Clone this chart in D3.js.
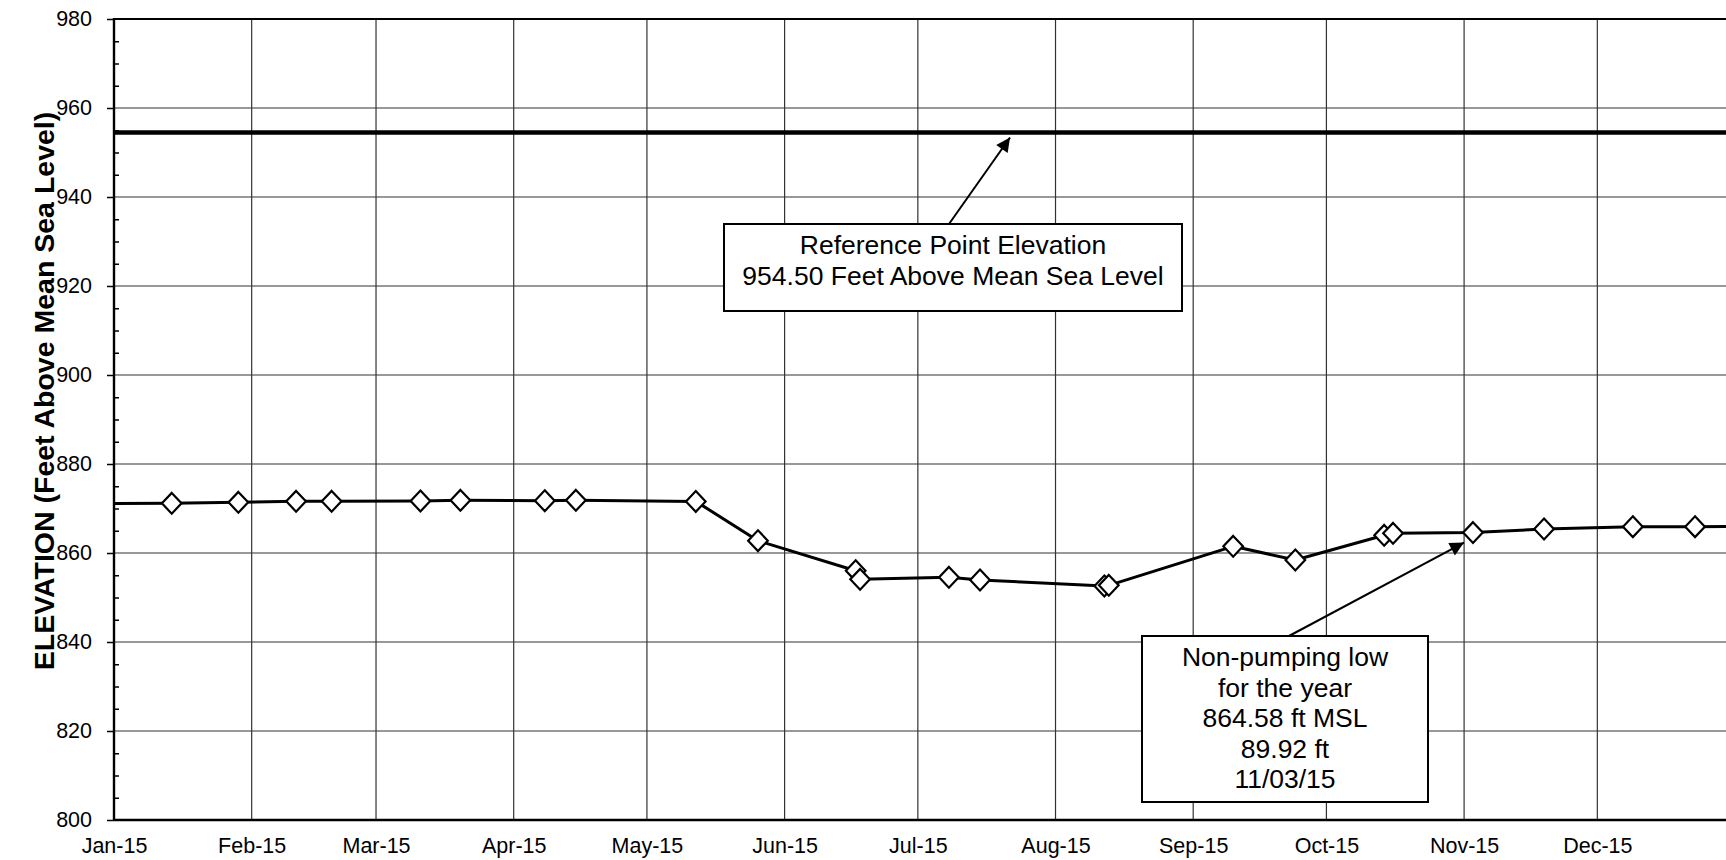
<!DOCTYPE html>
<html>
<head>
<meta charset="utf-8">
<script src="https://cdn.jsdelivr.net/npm/d3@7/dist/d3.min.js"></script>
<style>
  html, body { margin: 0; padding: 0; background: #fff; overflow: hidden; }
  svg { display: block; font-family: "Liberation Sans", Arial, sans-serif; }
</style>
</head>
<body>
<svg id="chart" width="1726" height="860"></svg>
<script>
// Measurement dates and water-level elevations (ft above mean sea level)
const sampleDates = [
  "2014-12-16", "2015-01-14", "2015-01-29", "2015-02-11", "2015-02-19",
  "2015-03-11", "2015-03-20", "2015-04-08", "2015-04-15", "2015-05-12",
  "2015-05-26", "2015-06-17", "2015-06-18", "2015-07-08", "2015-07-15",
  "2015-08-12", "2015-08-13", "2015-09-10", "2015-09-24", "2015-10-14",
  "2015-10-16", "2015-11-03", "2015-11-19", "2015-12-09", "2015-12-23",
  "2016-01-12"
];
const elevations = [
  871.10, 871.17, 871.39, 871.62, 871.62,
  871.69, 871.84, 871.75, 871.84, 871.60,
  862.76, 856.02, 854.09, 854.54, 853.93,
  852.58, 852.74, 861.50, 858.43, 863.98,
  864.42, 864.58, 865.39, 865.91, 865.91,
  866.00
];

// Reference point elevation
const referenceElevation = 954.50;

// Axis ticks
const yMajorTicks = [800, 820, 840, 860, 880, 900, 920, 940, 960, 980];
const yMinorTicks = d3.range(800, 981, 5);
const monthTicks = ["2015-01-01", "2015-02-01", "2015-03-01", "2015-04-01", "2015-05-01",
  "2015-06-01", "2015-07-01", "2015-08-01", "2015-09-01", "2015-10-01", "2015-11-01", "2015-12-01"];
const monthLabels = ["Jan-15", "Feb-15", "Mar-15", "Apr-15", "May-15", "Jun-15",
  "Jul-15", "Aug-15", "Sep-15", "Oct-15", "Nov-15", "Dec-15"];

// Annotation text
const refNoteLines = ["Reference Point Elevation", "954.50 Feet Above Mean Sea Level"];
const lowNoteLines = ["Non-pumping low", "for the year", "864.58 ft MSL", "89.92 ft", "11/03/15"];
const lowDate = "2015-11-03";
const lowValue = 864.58;

const parse = d3.utcParse("%Y-%m-%d");
const points = sampleDates.map((d, i) => ({ date: parse(d), value: elevations[i] }));

const svg = d3.select("#chart");
const plot = { left: 114, top: 19, right: 1735, bottom: 820 };

const x = d3.scaleUtc()
  .domain([parse("2015-01-01"), parse("2016-01-01")])
  .range([plot.left, plot.right]);
const y = d3.scaleLinear()
  .domain([800, 980])
  .range([plot.bottom, plot.top]);

svg.append("defs").append("clipPath").attr("id", "plot-clip")
  .append("rect")
  .attr("x", plot.left).attr("y", plot.top)
  .attr("width", plot.right - plot.left).attr("height", plot.bottom - plot.top);

svg.select("defs").append("marker")
  .attr("id", "arrowhead")
  .attr("viewBox", "0 0 10 10")
  .attr("refX", 10).attr("refY", 5)
  .attr("markerWidth", 17).attr("markerHeight", 14)
  .attr("markerUnits", "userSpaceOnUse")
  .attr("orient", "auto")
  .append("path").attr("d", "M0,0 L10,5 L0,10 Z").attr("fill", "#000");

// Gridlines
const grid = svg.append("g").attr("class", "grid");
grid.selectAll("line.h")
  .data(yMajorTicks.filter(v => v > 800 && v < 980))
  .join("line").attr("class", "h")
  .attr("x1", plot.left).attr("x2", plot.right)
  .attr("y1", d => y(d)).attr("y2", d => y(d))
  .attr("stroke", "#333").attr("stroke-width", 1.2);
grid.selectAll("line.v")
  .data(monthTicks.slice(1).map(parse))
  .join("line").attr("class", "v")
  .attr("x1", d => x(d)).attr("x2", d => x(d))
  .attr("y1", plot.top).attr("y2", plot.bottom)
  .attr("stroke", "#333").attr("stroke-width", 1.2);

// Reference elevation line
svg.append("line")
  .attr("x1", plot.left).attr("x2", plot.right)
  .attr("y1", y(referenceElevation)).attr("y2", y(referenceElevation))
  .attr("stroke", "#000").attr("stroke-width", 4.6);

// Y axis: major ticks outside with labels, minor ticks inside
const yAxis = d3.axisLeft(y).tickValues(yMajorTicks).tickSize(7).tickPadding(15).tickFormat(d3.format("d"));
const yAxisG = svg.append("g").attr("transform", `translate(${plot.left},0)`).call(yAxis);
yAxisG.select(".domain").remove();
yAxisG.selectAll(".tick line").attr("stroke", "#000").attr("stroke-width", 1.5);
yAxisG.selectAll(".tick text").attr("font-size", 21.5).attr("fill", "#000")
  .attr("font-family", "'Liberation Sans', Arial, sans-serif");

const yMinor = d3.axisRight(y).tickValues(yMinorTicks.filter(v => v % 20 !== 0)).tickSize(5).tickFormat("");
const yMinorG = svg.append("g").attr("transform", `translate(${plot.left},0)`).call(yMinor);
yMinorG.select(".domain").remove();
yMinorG.selectAll(".tick line").attr("stroke", "#000").attr("stroke-width", 1.5);

// X axis labels
const xAxis = d3.axisBottom(x).tickValues(monthTicks.map(parse)).tickSize(0).tickPadding(18)
  .tickFormat((d, i) => monthLabels[i]);
const xAxisG = svg.append("g").attr("transform", `translate(0,${plot.bottom})`).call(xAxis);
xAxisG.select(".domain").remove();
xAxisG.selectAll(".tick text").attr("font-size", 21.5).attr("fill", "#000")
  .attr("font-family", "'Liberation Sans', Arial, sans-serif");

// Plot frame
svg.append("line").attr("x1", plot.left).attr("x2", plot.right)
  .attr("y1", plot.top).attr("y2", plot.top).attr("stroke", "#000").attr("stroke-width", 2.2);
svg.append("line").attr("x1", plot.left).attr("x2", plot.right)
  .attr("y1", plot.bottom).attr("y2", plot.bottom).attr("stroke", "#000").attr("stroke-width", 2.4);
svg.append("line").attr("x1", plot.left).attr("x2", plot.left)
  .attr("y1", plot.top - 1).attr("y2", plot.bottom + 1).attr("stroke", "#000").attr("stroke-width", 2.4);
svg.append("line").attr("x1", plot.right).attr("x2", plot.right)
  .attr("y1", plot.top).attr("y2", plot.bottom).attr("stroke", "#000").attr("stroke-width", 2.2);

// Y axis title
svg.append("text")
  .attr("transform", `translate(54,391) rotate(-90)`)
  .attr("text-anchor", "middle")
  .attr("font-size", 28.5).attr("font-weight", "bold").attr("fill", "#000")
  .text("ELEVATION (Feet Above Mean Sea Level)");

// Water level series
const series = svg.append("g").attr("clip-path", "url(#plot-clip)");
series.append("path")
  .datum(points)
  .attr("fill", "none").attr("stroke", "#000").attr("stroke-width", 3)
  .attr("stroke-linejoin", "round")
  .attr("d", d3.line().x(d => x(d.date)).y(d => y(d.value)));

const diamond = "M0,-10.4 L9.8,0 L0,10.4 L-9.8,0 Z";
series.selectAll("path.pt")
  .data(points)
  .join("path").attr("class", "pt")
  .attr("transform", d => `translate(${x(d.date)},${y(d.value)})`)
  .attr("d", diamond)
  .attr("fill", "#fff").attr("stroke", "#000").attr("stroke-width", 2.2);

// Callout boxes with arrows
function callout(box, lines, lineGap, firstBaseline, from, to) {
  const g = svg.append("g");
  g.append("line")
    .attr("x1", from[0]).attr("y1", from[1]).attr("x2", to[0]).attr("y2", to[1])
    .attr("stroke", "#000").attr("stroke-width", 2)
    .attr("marker-end", "url(#arrowhead)");
  g.append("rect")
    .attr("x", box.x).attr("y", box.y).attr("width", box.w).attr("height", box.h)
    .attr("fill", "#fff").attr("stroke", "#000").attr("stroke-width", 2);
  g.selectAll("text").data(lines).join("text")
    .attr("x", box.x + box.w / 2)
    .attr("y", (d, i) => box.y + firstBaseline + i * lineGap)
    .attr("text-anchor", "middle")
    .attr("font-size", 26.5).attr("fill", "#000")
    .text(d => d);
}

const refBox = { x: 724, y: 224, w: 458, h: 87 };
callout(refBox, refNoteLines, 30.5, 30,
  [949, refBox.y], [1010, y(referenceElevation) + 5]);

const lowBox = { x: 1142, y: 636, w: 286, h: 166 };
callout(lowBox, lowNoteLines, 30.5, 30,
  [1289, lowBox.y], [x(parse(lowDate)) - 9, y(lowValue) + 10]);
</script>
</body>
</html>
